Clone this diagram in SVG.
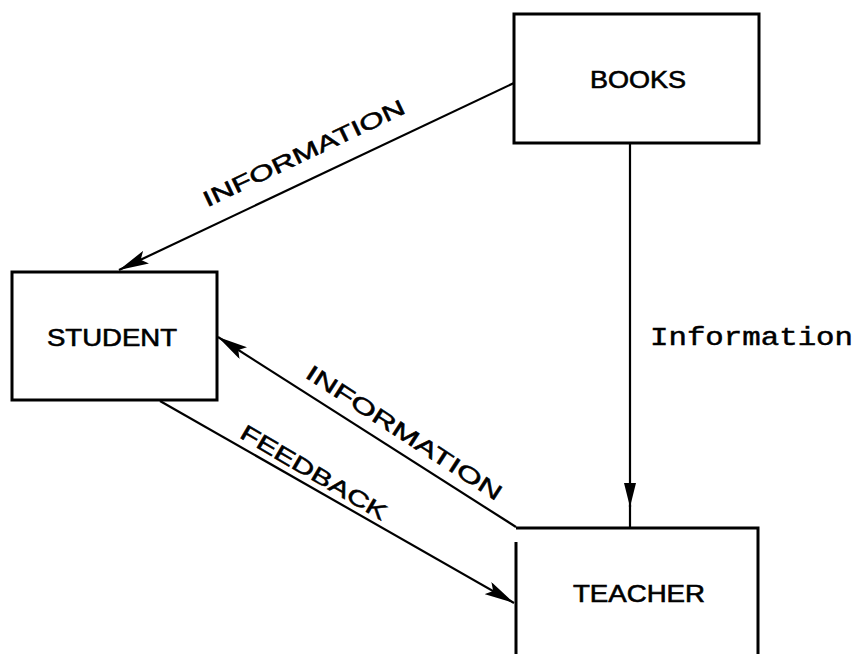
<svg xmlns="http://www.w3.org/2000/svg" width="860" height="654" viewBox="0 0 860 654">
<style>
.box{fill:none;stroke:#000;stroke-width:3}
.ln{fill:none;stroke:#000;stroke-width:2.2}
.lbl{font-family:"Liberation Sans",Arial,sans-serif;font-size:24px;fill:#000;stroke:#000;stroke-width:0.6}
.elbl{font-family:"Liberation Sans",Arial,sans-serif;font-size:22px;fill:#000;stroke:#000;stroke-width:0.5}
.mono{font-family:"Liberation Mono","Courier New",monospace;font-size:26px;fill:#000;stroke:#000;stroke-width:0.5}
</style>
<defs>
<marker id="ah" markerUnits="userSpaceOnUse" markerWidth="30" markerHeight="14" refX="30" refY="7" orient="auto">
<path d="M0,0 L30,7 L0,14 L6,7 z" fill="#000"/>
</marker>
<marker id="ahn" markerUnits="userSpaceOnUse" markerWidth="24" markerHeight="12" refX="24" refY="6" orient="auto">
<path d="M0,0 L24,6 L0,12 z" fill="#000"/>
</marker>
</defs>
<rect width="860" height="654" fill="#fff"/>
<g id="connectors">
<line class="ln" x1="514" y1="83" x2="119" y2="270" marker-end="url(#ah)"/>
<line class="ln" x1="630" y1="143" x2="630" y2="507" marker-end="url(#ahn)"/>
<line class="ln" x1="630" y1="505" x2="630" y2="527"/>
<line class="ln" x1="516" y1="527" x2="218" y2="337" marker-end="url(#ah)"/>
<line class="ln" x1="160" y1="401" x2="514" y2="603" marker-end="url(#ah)"/>
<text class="elbl" transform="translate(307,160) rotate(-25.4)" text-anchor="middle" textLength="221" lengthAdjust="spacingAndGlyphs">INFORMATION</text>
<text class="elbl" transform="translate(400,439) rotate(33)" text-anchor="middle" textLength="229" lengthAdjust="spacingAndGlyphs">INFORMATION</text>
<text class="elbl" transform="translate(310,479) rotate(30.4)" text-anchor="middle" textLength="166" lengthAdjust="spacingAndGlyphs">FEEDBACK</text>
<text class="mono" x="650" y="345" textLength="203" lengthAdjust="spacingAndGlyphs">Information</text>
</g>
<g id="books">
<rect class="box" x="514" y="14" width="245" height="129"/>
<text class="lbl" x="590" y="88" textLength="96" lengthAdjust="spacingAndGlyphs">BOOKS</text>
</g>
<g id="student">
<rect class="box" x="12" y="272" width="205" height="128"/>
<text class="lbl" x="47" y="346" textLength="130" lengthAdjust="spacingAndGlyphs">STUDENT</text>
</g>
<g id="teacher">
<path class="box" d="M516,542 V654 M516,528 H758 V654"/>
<text class="lbl" x="573" y="602" textLength="132" lengthAdjust="spacingAndGlyphs">TEACHER</text>
</g>
</svg>
